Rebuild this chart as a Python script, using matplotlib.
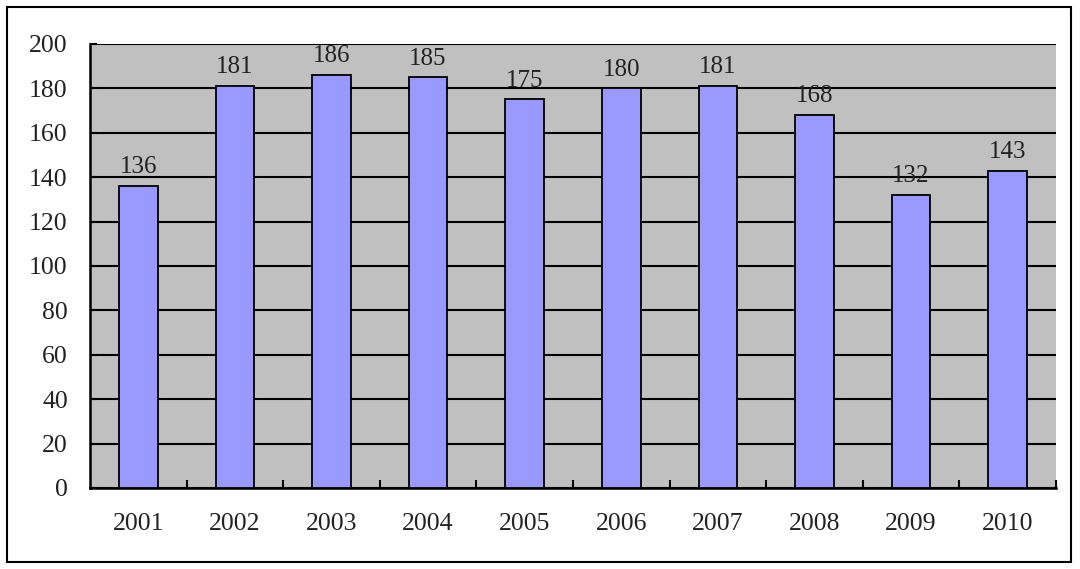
import matplotlib.pyplot as plt
import numpy as np
from matplotlib.patches import Rectangle

years = ["2001", "2002", "2003", "2004", "2005", "2006", "2007", "2008", "2009", "2010"]
counts = [136, 181, 186, 185, 175, 180, 181, 168, 132, 143]

plt.rcParams["font.family"] = ["Liberation Serif", "DejaVu Serif"]

fig = plt.figure(figsize=(10.8, 5.69), dpi=100)
ax = fig.add_axes([90 / 1080, 1 - 488 / 569, (1056 - 90) / 1080, (488 - 44) / 569])

x = np.arange(len(years))
bars = ax.bar(x, counts, width=0.4, color="#9999FF", edgecolor="black", linewidth=1.3, zorder=3)

# value labels above each bar
for xi, v in zip(x, counts):
    ax.text(xi, v + 3.5, str(v), ha="center", va="bottom", fontsize=18, color="#222222", zorder=4)

ax.set_facecolor("#C0C0C0")
ax.set_xlim(-0.5, len(years) - 0.5)
ax.set_ylim(0, 200)
ax.set_yticks(range(0, 201, 20))
ax.yaxis.grid(True, color="black", linewidth=1.5)
ax.set_axisbelow(True)

ax.set_xticks(x)
ax.set_xticklabels(years)
ax.set_xticks(np.arange(0.5, len(years), 1), minor=True)
ax.tick_params(axis="x", which="major", length=0, pad=18, labelsize=18.5, labelcolor="#222222")
ax.tick_params(axis="x", which="minor", direction="in", length=6, width=1.5, color="black")
ax.tick_params(axis="y", direction="in", length=5, width=1.5, pad=16, labelsize=18.5, labelcolor="#222222")

for s in ["top", "right"]:
    ax.spines[s].set_visible(False)
ax.spines["left"].set_linewidth(1.8)
ax.spines["bottom"].set_linewidth(1.8)

# outer chart border
fig.patches.append(Rectangle((7 / 1080, 7 / 569), 1064 / 1080, 555 / 569, transform=fig.transFigure,
                             fill=False, edgecolor="black", linewidth=1.5))

fig.savefig("out.png", dpi=100)
